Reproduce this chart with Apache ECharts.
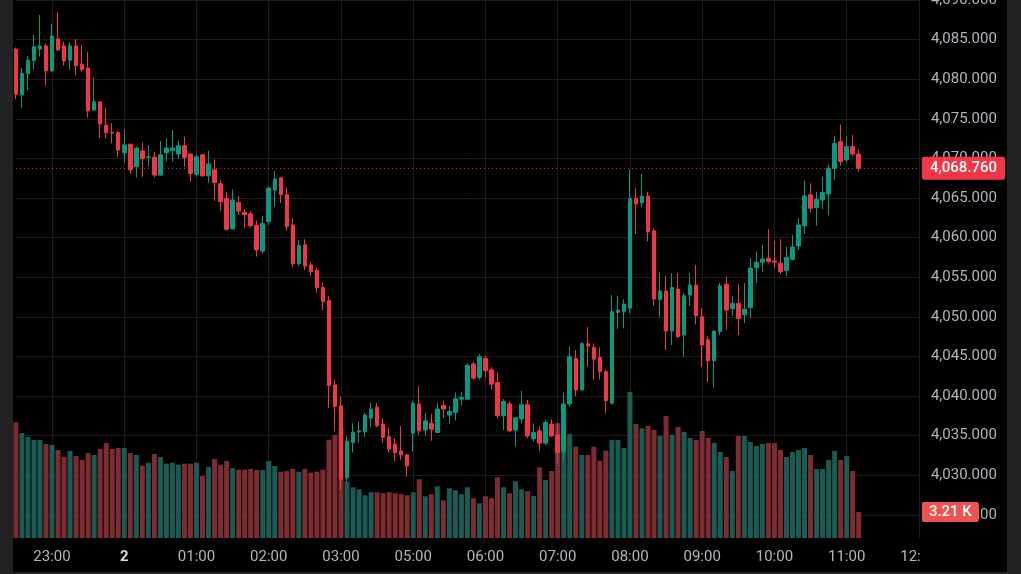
<!DOCTYPE html>
<html>
<head>
<meta charset="utf-8">
<style>
html,body{margin:0;padding:0;background:#000;}
#chart{width:1021px;height:574px;}
</style>
<script src="https://cdn.jsdelivr.net/npm/echarts@6/dist/echarts.min.js"></script>
</head>
<body>
<div id="chart"></div>
<script>
// ---- data (5-minute candles) ----
const sessionHours = ['22','23','00','01','02','03','05','06','07','08','09','10','11','12'];
const firstTime = '22:30';
const lastAxisTime = '12:00';
const dayBreakLabel = {'00:00': '2'};

const opens = [4083.8,4078.0,4080.7,4082.35,4083.8,4084.2,4081.05,4085.1,4084.2,4082.4,
4084.2,4081.9,4081.4,4076.1,4077.15,4074.2,4073.3,4073.25,4070.7,4071.8,
4068.95,4070.95,4070.15,4070.15,4067.9,4070.7,4071.0,4070.55,4071.6,4070.55,
4068.0,4070.45,4067.8,4068.55,4066.8,4064.95,4061.1,4064.45,4063.2,4063.0,
4061.55,4058.3,4062.0,4066.0,4067.55,4065.4,4061.6,4056.7,4059.1,4056.55,
4055.85,4053.7,4052.05,4041.4,4038.75,4029.65,4034.1,4035.45,4035.5,4037.2,
4038.6,4036.45,4034.85,4033.9,4033.05,4032.55,4035.3,4039.0,4035.7,4036.55,
4035.4,4038.8,4037.6,4037.9,4039.6,4039.6,4044.05,4042.35,4044.75,4043.3,
4041.7,4037.5,4039.0,4035.7,4037.1,4038.9,4034.6,4035.6,4034.05,4036.45,
4035.1,4032.95,4039.0,4044.75,4040.75,4046.6,4046.15,4044.85,4043.1,4039.1,
4050.55,4050.65,4051.1,4064.95,4064.4,4065.25,4060.85,4052.15,4053.25,4048.2,
4053.5,4047.7,4052.75,4054.0,4050.0,4047.1,4044.45,4048.15,4054.1,4051.0,
4051.7,4050.25,4051.15,4056.2,4056.9,4057.4,4057.05,4056.75,4055.85,4057.25,
4058.95,4061.5,4065.4,4063.8,4064.75,4065.5,4068.75,4072.1,4069.8,4071.5,
4070.55];
const closes = [4078.1,4080.75,4082.4,4084.1,4084.2,4081.05,4085.45,4083.7,4082.3,4084.2,
4081.7,4081.2,4076.0,4077.15,4074.35,4073.25,4073.2,4071.05,4071.7,4068.55,
4071.3,4069.95,4070.2,4067.9,4070.45,4071.3,4071.3,4071.6,4070.1,4068.1,
4070.2,4067.8,4069.3,4066.95,4064.55,4061.05,4064.75,4063.35,4062.9,4061.5,
4058.45,4061.8,4066.25,4067.4,4065.4,4061.4,4056.7,4059.0,4056.4,4055.7,
4053.7,4051.9,4041.3,4038.65,4029.5,4034.3,4035.45,4035.6,4037.6,4038.35,
4036.25,4034.75,4033.3,4032.85,4032.55,4031.15,4039.1,4035.6,4036.85,4035.8,
4038.35,4038.35,4038.05,4039.65,4039.8,4043.85,4042.25,4044.95,4043.2,4041.5,
4037.5,4039.3,4035.6,4037.25,4038.9,4034.95,4035.4,4034.05,4036.65,4034.95,
4032.85,4039.0,4044.95,4040.75,4046.6,4046.3,4044.65,4043.1,4039.4,4050.65,
4050.85,4051.6,4064.95,4064.25,4065.25,4060.75,4052.25,4053.25,4048.2,4053.7,
4047.5,4052.65,4054.0,4050.15,4046.45,4044.45,4048.2,4053.9,4050.85,4051.7,
4049.8,4050.95,4056.15,4056.9,4057.3,4056.95,4056.9,4055.7,4057.5,4058.8,
4061.6,4065.25,4063.7,4064.85,4065.7,4068.75,4071.9,4069.6,4071.5,4070.55,
4068.76];
const lows = [4077.5,4076.4,4078.6,4081.2,4082.85,4079.15,4080.95,4083.55,4081.7,4081.2,
4080.45,4080.9,4075.15,4076.1,4072.55,4072.55,4071.9,4070.15,4069.45,4068.1,
4067.6,4067.7,4068.95,4067.6,4067.8,4069.6,4069.6,4069.95,4068.95,4067.05,
4067.7,4067.7,4066.95,4064.65,4063.4,4060.9,4061.1,4062.85,4061.2,4061.2,
4057.6,4057.95,4061.6,4063.9,4064.35,4060.9,4056.25,4056.4,4055.9,4055.2,
4053.0,4050.85,4038.45,4035.5,4028.15,4029.15,4032.85,4034.1,4034.85,4036.05,
4036.05,4034.1,4032.9,4031.7,4031.95,4029.8,4032.95,4035.1,4035.0,4034.35,
4035.3,4037.2,4036.45,4036.9,4038.75,4039.6,4042.05,4042.05,4042.35,4040.85,
4037.2,4035.7,4035.4,4033.6,4036.55,4034.65,4034.25,4033.05,4033.8,4034.85,
4031.5,4032.0,4038.65,4040.0,4040.65,4043.7,4042.05,4042.1,4037.8,4038.9,
4048.45,4048.55,4050.45,4060.45,4063.85,4059.5,4051.4,4050.0,4045.8,4046.45,
4047.3,4044.9,4051.35,4049.05,4043.65,4041.8,4041.1,4047.7,4048.35,4050.1,
4047.7,4049.2,4049.8,4054.25,4055.7,4056.75,4056.15,4055.4,4055.15,4057.2,
4058.45,4060.45,4063.15,4061.5,4063.6,4062.8,4067.3,4069.1,4069.45,4070.2,
4068.35];
const highs = [4084.0,4081.4,4082.9,4085.6,4088.1,4084.45,4087.0,4088.45,4084.75,4084.65,
4085.05,4084.3,4083.45,4080.25,4077.2,4076.35,4074.45,4073.5,4073.7,4071.8,
4071.5,4072.0,4071.7,4070.85,4072.2,4072.55,4073.6,4072.25,4072.75,4070.65,
4070.55,4070.55,4071.0,4069.9,4067.3,4065.8,4066.1,4065.25,4063.6,4063.35,
4062.15,4062.75,4066.5,4068.4,4067.7,4066.35,4062.45,4059.7,4059.8,4056.95,
4056.15,4054.35,4052.65,4042.1,4039.9,4034.95,4036.55,4036.75,4037.9,4039.15,
4039.15,4037.2,4035.95,4034.65,4036.2,4032.75,4039.4,4041.25,4037.9,4037.75,
4039.15,4039.4,4038.75,4040.45,4040.55,4044.15,4044.35,4045.3,4045.05,4043.65,
4042.95,4039.6,4039.3,4037.3,4040.65,4039.5,4036.55,4036.15,4037.05,4037.05,
4036.55,4040.45,4046.25,4045.8,4046.85,4048.7,4046.65,4046.15,4043.3,4052.75,
4052.65,4052.2,4068.55,4066.25,4068.05,4065.8,4061.2,4055.65,4055.15,4055.5,
4055.5,4053.0,4055.5,4056.55,4051.1,4047.5,4048.2,4054.3,4055.05,4052.65,
4054.1,4054.25,4057.4,4058.25,4059.1,4061.05,4059.6,4059.8,4058.85,4060.35,
4062.45,4067.2,4066.85,4065.8,4067.7,4069.2,4072.85,4074.25,4072.85,4072.95,
4071.15];
// volume in thousands
const volumes = [14.28,12.96,12.47,12.10,12.10,11.61,11.48,10.86,10.04,10.74,
10.12,9.63,10.49,10.25,10.99,11.73,10.99,11.11,11.11,10.49,
10.25,8.93,9.30,10.37,10.0,9.17,9.30,9.05,9.17,9.17,
9.30,7.65,8.77,9.75,9.05,9.51,8.64,8.43,8.43,8.52,
8.40,8.40,9.51,8.89,8.19,8.27,8.52,8.19,8.52,8.06,
8.19,8.43,12.10,12.72,13.58,6.95,6.26,6.01,5.27,5.64,
5.64,5.52,5.64,5.52,5.40,5.27,5.64,7.25,5.15,5.40,
6.38,4.65,6.14,5.89,5.40,6.26,4.90,4.28,5.15,4.90,
7.49,6.26,5.52,7.0,6.01,5.77,5.19,8.73,7.16,8.27,
14.16,12.10,12.84,11.27,10.25,10.25,11.27,9.54,10.78,12.10,
12.10,11.11,18.02,14.07,13.54,13.83,13.33,12.59,15.06,12.72,
13.70,13.09,12.35,12.10,13.21,12.35,11.73,10.62,10.0,8.27,
12.59,12.59,11.85,11.36,11.61,11.73,11.73,10.86,10.0,10.62,
10.86,11.11,10.25,8.52,8.52,9.63,10.74,9.63,10.12,8.27,
3.21];
const priceMin = 4020, priceMax = 4090, priceStep = 5;

// ---- build categories ----
const categories = [];
(function(){
  let started = false;
  for (const h of sessionHours) {
    for (let m = 0; m < 60; m += 5) {
      const t = h + ':' + String(m).padStart(2, '0');
      if (t === firstTime) started = true;
      if (!started) continue;
      categories.push(t);
      if (t === lastAxisTime) return;
    }
  }
})();

const UP = '#089981', DOWN = '#f23645';
const VOL_UP = '#1b5b54', VOL_DOWN = '#7d2d31';
const GRID_COLOR = '#1c1c1c';
const TEXT = '#b2b5be';
const FONT = 'Roboto';

const candleData = opens.map((o, i) => [o, closes[i], lows[i], highs[i]]);
const volData = volumes.map((v, i) => ({
  value: v,
  itemStyle: { color: closes[i] >= opens[i] ? VOL_UP : VOL_DOWN }
}));
const lastClose = closes[closes.length - 1];
const lastVol = volumes[volumes.length - 1];
const fmtPrice = v => Number(v).toLocaleString('en-US', {minimumFractionDigits: 3, maximumFractionDigits: 3});

const chart = echarts.init(document.getElementById('chart'), null, {renderer: 'canvas'});
const GL = 15.9, GR = 102.1;
const option = {
  backgroundColor: '#000000',
  animation: false,
  grid: [
    {left: GL, right: GR, top: 0, height: 554.4, containLabel: false, outerBoundsMode: 'none'},
    {left: GL, right: GR, top: 0, height: 538, containLabel: false, outerBoundsMode: 'none'}
  ],
  xAxis: [
    {type: 'category', gridIndex: 0, data: categories, boundaryGap: false, show: false},
    {type: 'category', gridIndex: 1, data: categories, boundaryGap: false,
      axisLine: {show: false}, axisTick: {show: false},
      axisLabel: {
        interval: (i, v) => v.endsWith(':00'),
        formatter: v => dayBreakLabel[v] ? '{d|' + dayBreakLabel[v] + '}' : v,
        color: TEXT, fontSize: 15, fontFamily: FONT, margin: 12,
        rich: {d: {fontWeight: 'bold', color: '#d9dbe0', fontSize: 15, fontFamily: FONT}}
      },
      splitLine: {show: true, interval: (i, v) => v.endsWith(':00'), lineStyle: {color: GRID_COLOR, width: 1}}
    }
  ],
  yAxis: [
    {type: 'value', gridIndex: 0, position: 'right', min: priceMin, max: priceMax, interval: priceStep,
      axisLine: {show: false}, axisTick: {show: false},
      axisLabel: {showMinLabel: false, formatter: fmtPrice, color: TEXT, fontSize: 15, fontFamily: FONT, margin: 12},
      splitLine: {show: true, showMinLine: false, lineStyle: {color: GRID_COLOR, width: 1}}
    },
    {type: 'value', gridIndex: 1, min: 0, max: 66.4, show: false}
  ],
  series: [
    {
      type: 'bar', xAxisIndex: 1, yAxisIndex: 1, data: volData, barWidth: 5, z: 1, clip: false,
      markLine: {
        symbol: ['none', 'none'], silent: true, animation: false,
        data: [{yAxis: lastVol}],
        lineStyle: {color: 'rgba(0,0,0,0)', width: 1, type: 'solid'},
        label: {show: true, position: 'end', distance: 3, formatter: () => lastVol.toFixed(2) + ' K',
          color: '#ffffff', fontWeight: 500, backgroundColor: '#ef5350', padding: [3, 7, 2, 7], fontSize: 15, fontFamily: FONT, borderRadius: 2}
      }
    },
    {
      type: 'candlestick', xAxisIndex: 0, yAxisIndex: 0, data: candleData, barWidth: 4, z: 2, clip: false,
      itemStyle: {color: UP, color0: DOWN, borderColor: UP, borderColor0: DOWN, borderWidth: 1},
      markLine: {
        symbol: ['none', 'none'], silent: true, animation: false,
        data: [{yAxis: lastClose}],
        lineStyle: {color: DOWN, type: [1, 3], width: 1},
        label: {position: 'end', distance: 3, formatter: () => fmtPrice(lastClose),
          color: '#ffffff', fontWeight: 500, backgroundColor: DOWN, padding: [4, 8, 4, 8], fontSize: 15, fontFamily: FONT, borderRadius: 2}
      }
    }
  ],
  graphic: [
    {type: 'rect', z: 100, shape: {x: 921, y: 540, width: 86, height: 32}, style: {fill: '#000000'}},
    {type: 'rect', z: 101, shape: {x: 0, y: 0, width: 13, height: 574}, style: {fill: '#222222'}},
    {type: 'rect', z: 101, shape: {x: 1007, y: 0, width: 14, height: 574}, style: {fill: '#222222'}},
    {type: 'rect', z: 101, shape: {x: 0, y: 572, width: 1021, height: 2}, style: {fill: '#222222'}}
  ]
};
chart.setOption(option);
</script>
</body>
</html>
